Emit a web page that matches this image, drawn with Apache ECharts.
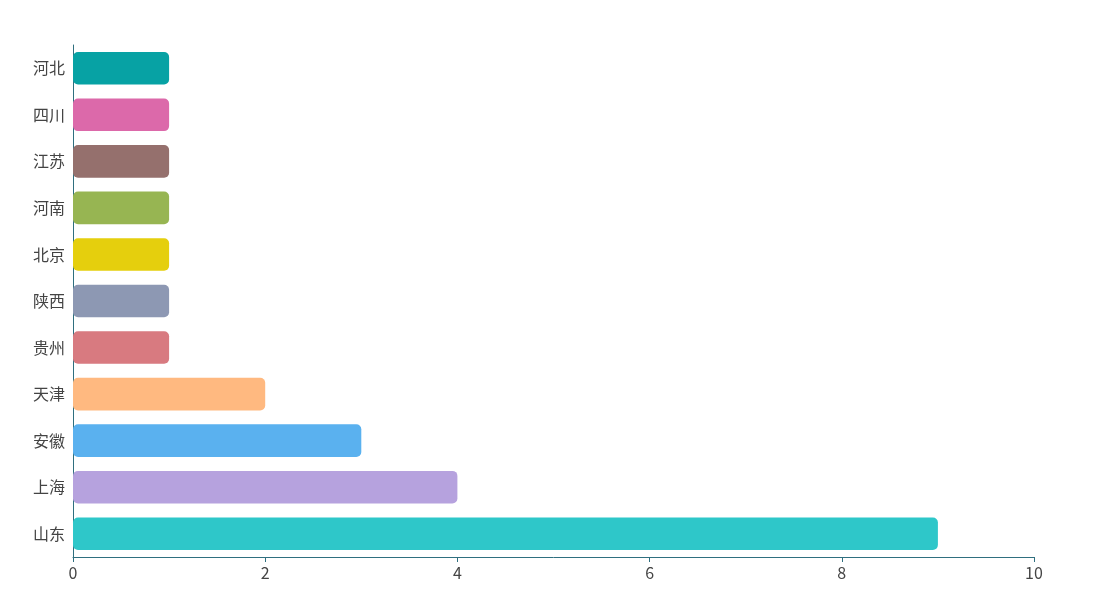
<!DOCTYPE html>
<html><head><meta charset="utf-8">
<script src="https://cdn.jsdelivr.net/npm/echarts@6/dist/echarts.min.js"></script>
<style>html,body{margin:0;padding:0;background:#fff}#c{width:1109px;height:613px}</style>
</head><body><div id="c"></div>
<script>
const categories = ['山东','上海','安徽','天津','贵州','陕西','北京','河南','江苏','四川','河北'];
const values = [9,4,3,2,1,1,1,1,1,1,1];
const colors = ['#2ec7c9','#b6a2de','#5ab1ef','#ffb980','#d87a80','#8d98b3','#e5cf0d','#97b552','#95706d','#dc69aa','#07a2a4'];
const chart = echarts.init(document.getElementById('c'));
chart.setOption({
  animation:false,
  grid:{left:73,right:75,top:45,bottom:56},
  xAxis:{type:'value',min:0,max:10,interval:2,
    axisLine:{show:true,lineStyle:{color:'#2f6f7f'}},
    axisTick:{show:true,lineStyle:{color:'#2f6f7f'}},
    splitLine:{show:false},
    axisLabel:{color:'#444',fontSize:16,fontFamily:'Noto Sans CJK SC'}},
  yAxis:{type:'category',data:categories,
    axisLine:{lineStyle:{color:'#2f6f7f'}},
    axisTick:{lineStyle:{color:'#2f6f7f'}},
    axisLabel:{color:'#444',fontSize:16,fontFamily:'Noto Sans CJK SC'}},
  series:[{type:'bar',barWidth:'70%',
    data:values.map((v,i)=>({value:v,itemStyle:{color:colors[i]}})),
    itemStyle:{borderRadius:5}}]
});
</script></body></html>
